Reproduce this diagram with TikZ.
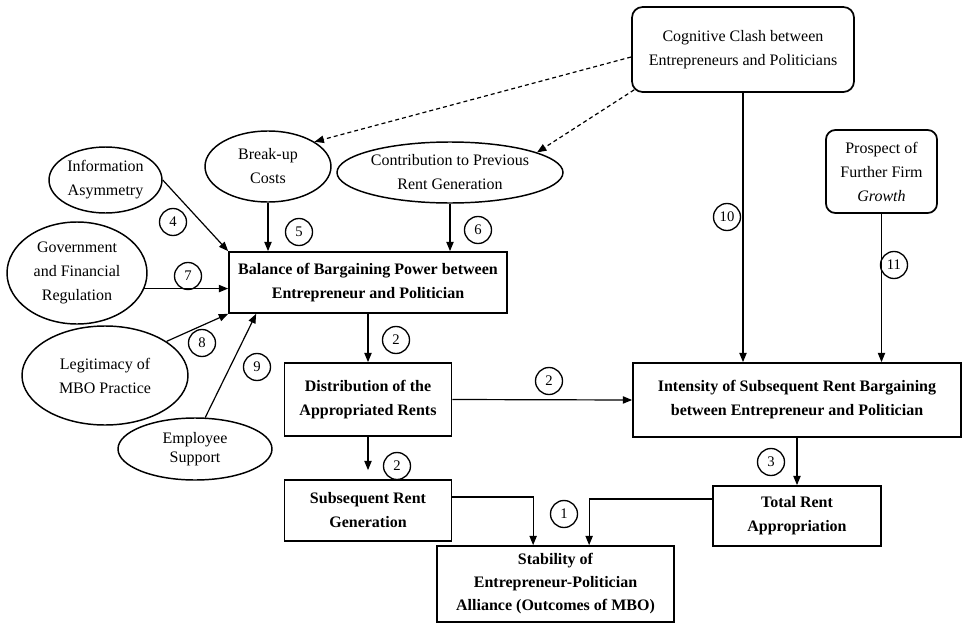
\documentclass[tikz,border=0pt]{standalone}
\usepackage{fontspec}
\setmainfont{Liberation Serif}
\usetikzlibrary{shapes.geometric,arrows.meta,calc}
\def\pxu{0.75pt}
\begin{document}
\begin{tikzpicture}[x=0.75pt,y=-0.75pt,
  every node/.style={inner sep=0pt, align=center, font=\fontsize{12}{18}\selectfont},
  bx/.style={draw, line width=1.3pt, font=\fontsize{12}{18}\selectfont\bfseries},
  rbx/.style={draw, line width=1.3pt, rounded corners=8pt},
  ell/.style={draw, ellipse, line width=1.1pt},
  numc/.style={draw, circle, line width=1pt, minimum size=27*\pxu, font=\fontsize{11}{11}\selectfont},
  arr/.style={line width=0.9pt, -{Triangle[length=7pt,width=5.5pt]}},
  darr/.style={line width=0.9pt, dash pattern=on 3pt off 2.3pt, -{Triangle[length=7pt,width=5.5pt]}},
]
\fill[white] (0,0) rectangle (965,625);
\useasboundingbox (0,0) rectangle (965,625);

% nodes
\node[rbx, minimum width=222*\pxu, minimum height=85*\pxu] (cog) at (743,49.5) {Cognitive Clash between\\Entrepreneurs and Politicians};
\node[rbx, minimum width=111*\pxu, minimum height=83*\pxu, rounded corners=7pt] (prosp) at (881.5,171.5) {Prospect of\\Further Firm\\\textit{Growth}};
\node[ell, minimum width=113*\pxu, minimum height=66*\pxu] (info) at (105.5,180) {Information\\Asymmetry};
\node[ell, minimum width=126*\pxu, minimum height=71*\pxu] (breakup) at (268,166.5) {Break-up\\Costs};
\node[ell, minimum width=226*\pxu, minimum height=61*\pxu] (contrib) at (450,172.5) {Contribution to Previous\\Rent Generation};
\node[bx, minimum width=278*\pxu, minimum height=61*\pxu] (balance) at (368,282.5) {Balance of Bargaining Power between\\Entrepreneur and Politician};
\node[ell, minimum width=140*\pxu, minimum height=102*\pxu] (gov) at (77,273) {Government\\and Financial\\Regulation};
\node[ell, minimum width=166*\pxu, minimum height=99*\pxu] (legit) at (105,375.5) {Legitimacy of\\MBO Practice};
\node[ell, minimum width=154*\pxu, minimum height=62*\pxu, font=\fontsize{12}{14.5}\selectfont] (empl) at (195,449) {Employee\\Support};
\node[bx, minimum width=167*\pxu, minimum height=73*\pxu] (distr) at (368,399.5) {Distribution of the\\Appropriated Rents};
\node[bx, minimum width=167*\pxu, minimum height=61*\pxu] (subseq) at (368,510.5) {Subsequent Rent\\Generation};
\node[bx, minimum width=237*\pxu, minimum height=76*\pxu, font=\fontsize{12}{17.25}\selectfont\bfseries] (stab) at (555.5,584) {Stability of\\Entrepreneur-Politician\\Alliance (Outcomes of MBO)};
\node[bx, minimum width=328*\pxu, minimum height=74*\pxu] (inten) at (797,400) {Intensity of Subsequent Rent Bargaining\\between Entrepreneur and Politician};
\node[bx, minimum width=168*\pxu, minimum height=60*\pxu] (total) at (797,516) {Total Rent\\Appropriation};

% number circles
\node[numc] (n4) at (173,222) {4};
\node[numc] (n5) at (299,232) {5};
\node[numc] (n6) at (478,230) {6};
\node[numc] (n7) at (188,276) {7};
\node[numc] (n8) at (202,343) {8};
\node[numc] (n9) at (257,367) {9};
\node[numc] (n2a) at (396,340) {2};
\node[numc] (n2b) at (549,381) {2};
\node[numc] (n2c) at (397,466) {2};
\node[numc] (n1) at (564,514) {1};
\node[numc] (n3) at (771,462) {3};
\node[numc] (n10) at (727,217) {10};
\node[numc] (n11) at (894,265) {11};

% helper coordinates
\coordinate (b9) at ($(balance.south west)+(28,0)$);
\coordinate (s1) at ($(stab.north west)+(97,0)$);
\coordinate (s2) at ($(stab.north west)+(153,0)$);

% connectors
\draw[arr] (info.east) -- (balance.north west);
\draw[arr] (breakup.south) -- (breakup.south |- balance.north);
\draw[arr] (contrib.south) -- (contrib.south |- balance.north);
\draw[arr] (gov.-13.5) -- (gov.-13.5 -| balance.west);
\draw[arr] (legit.29) -- (balance.south west);
\draw[arr] (empl.72) -- (b9);
\draw[arr] (balance.south) -- (distr.north);
\draw[arr] (distr.east) -- (inten.west);
\draw[arr] (distr.south) -- ($(subseq.north)+(0,-9)$);
\draw[arr] ($(subseq.east)+(0,-13.5)$) -| (s1);
\draw[arr] ($(total.west)+(0,-17)$) -| (s2);
\draw[arr] (inten.south) -- (total.north);
\draw[arr] (cog.south) -- (cog.south |- inten.north);
\draw[arr] (prosp.south) -- (prosp.south |- inten.north);
\draw[darr] ($(cog.west)+(0,7.5)$) -- (breakup.28);
\draw[darr] ($(cog.south west)+(3,-3)$) -- (contrib.13);
\end{tikzpicture}
\end{document}
